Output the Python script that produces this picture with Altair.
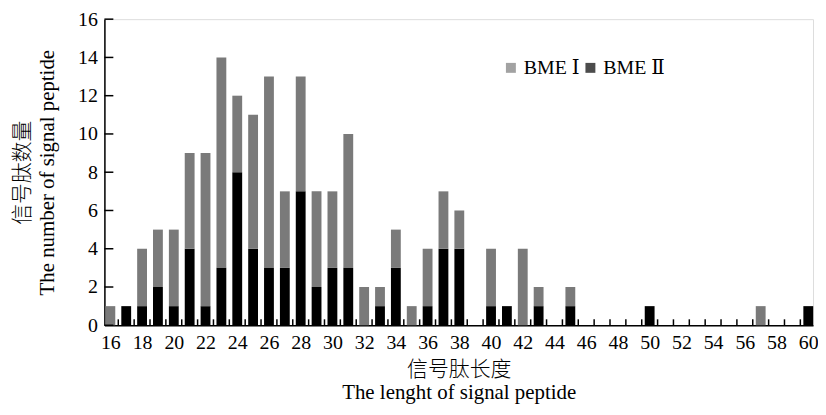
import altair as alt
import pandas as pd

# Signal peptide length categories 16..60
lengths = list(range(16, 61))
# BME II (black, bottom) counts per length
bme2 = [0, 1, 1, 2, 1, 4, 1, 3, 8, 4, 3, 3, 7, 2, 3, 3, 0, 1, 3, 0, 1, 4, 4, 0, 1, 1, 0, 1, 0, 1,
        0, 0, 0, 0, 1, 0, 0, 0, 0, 0, 0, 0, 0, 0, 1]
# Totals per length (BME I + BME II)
total = [1, 1, 4, 5, 5, 9, 9, 14, 12, 11, 13, 7, 13, 7, 7, 10, 2, 2, 5, 1, 4, 7, 6, 0, 4, 1, 4, 2, 0, 2,
         0, 0, 0, 0, 1, 0, 0, 0, 0, 0, 0, 1, 0, 0, 1]
bme1 = [t - b for t, b in zip(total, bme2)]

series = ["BME Ⅰ", "BME Ⅱ"]
colors = ["#7a7a7a", "#000000"]
y_ticks = list(range(0, 17, 2))
x_labels = list(range(16, 61, 2))
x_bounds = [l + 0.5 for l in lengths[:-1]]

rows = []
for l, a, b in zip(lengths, bme1, bme2):
    if b > 0:
        rows.append({"len": l, "series": series[1], "lo": 0, "hi": b})
    if a > 0:
        rows.append({"len": l, "series": series[0], "lo": b, "hi": b + a})
df = pd.DataFrame(rows)

FONT = "'Liberation Serif', 'Noto Sans CJK SC', serif"
FONT_LEG = "'Liberation Serif', 'DejaVu Serif', 'Noto Sans CJK SC', serif"
W, H = 713, 308
xdom = [15.625, 60.3]

xscale = alt.Scale(domain=xdom, nice=False, zero=False)
yscale = alt.Scale(domain=[0, 16], nice=False)

axis_common = dict(tickSize=0, grid=False, domainColor="black", domainWidth=1.5,
                   titleFontSize=21, titleFontWeight=300,
                   titleFont=FONT, labelFont=FONT, labelFontSize=20,
                   labelColor="black", titleColor="black", labelOverlap=False)
xaxis = alt.Axis(values=x_labels, title=["信号肽长度", "The lenght of signal peptide"],
                 labelPadding=7, titlePadding=7, titleLineHeight=23, **axis_common)
yaxis = alt.Axis(values=y_ticks, title=["信号肽数量", "The number of signal peptide"],
                 labelPadding=7, titlePadding=20, titleLineHeight=25, **axis_common)

bars = alt.Chart(df).transform_calculate(
    x0="datum.len - 0.31", x1="datum.len + 0.31"
).mark_bar().encode(
    x=alt.X("x0:Q", scale=xscale, axis=xaxis),
    x2="x1:Q",
    y=alt.Y("lo:Q", scale=yscale, axis=yaxis),
    y2="hi:Q",
    color=alt.Color("series:N", scale=alt.Scale(domain=series, range=colors),
                    legend=alt.Legend(title=None, orient="none", direction="horizontal",
                                      legendX=399, legendY=39, symbolType="square",
                                      symbolSize=100, symbolOpacity=0.7, symbolStrokeWidth=0,
                                      labelFontSize=20, labelFont=FONT_LEG, labelColor="black",
                                      columnPadding=0, labelOffset=3)),
)

xtick_df = pd.DataFrame({"b": x_bounds})
xticks = alt.Chart(xtick_df).mark_rule(color="black", strokeWidth=1.5).encode(
    x=alt.X("b:Q", scale=xscale, axis=xaxis),
    y=alt.value(H),
    y2=alt.value(H - 6),
)

ytick_df = pd.DataFrame({"v": y_ticks})
yticks = alt.Chart(ytick_df).mark_rule(color="black", strokeWidth=1.5).encode(
    y=alt.Y("v:Q", scale=yscale, axis=yaxis),
    x=alt.value(0),
    x2=alt.value(9),
)

chart = alt.layer(bars, xticks, yticks).properties(
    width=W, height=H,
    autosize=alt.AutoSizeParams(type="none"),
    padding={"left": 97, "top": 10, "right": 5, "bottom": 81},
).configure_view(strokeWidth=0).configure_axis(
    labelFont=FONT, titleFont=FONT
).configure(background="white")

chart.save("out.html", embed_options={"renderer": "svg", "actions": False})
